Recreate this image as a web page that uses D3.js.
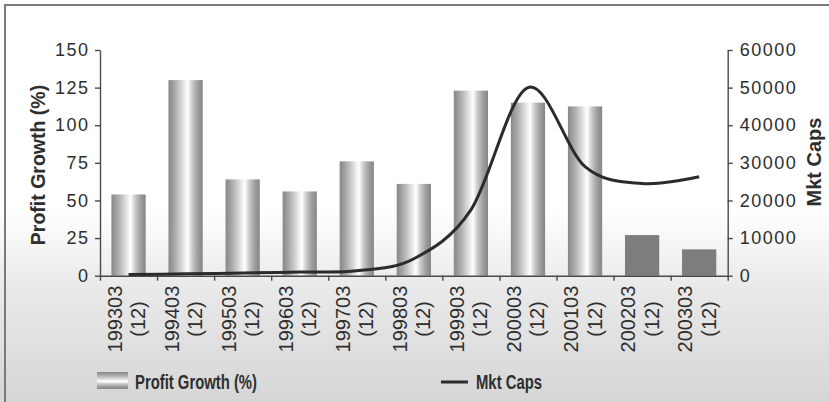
<!DOCTYPE html>
<html>
<head>
<meta charset="utf-8">
<script src="https://cdn.jsdelivr.net/npm/d3@7"></script>
<style>
  html, body { margin: 0; padding: 0; background: #fff; }
  svg { display: block; }
  text { font-family: "Liberation Sans", Arial, sans-serif; fill: #2e2e2e; }
</style>
</head>
<body>
<svg id="chart" width="829" height="402"></svg>
<script>
"use strict";

// chart values
var periods = ["199303", "199403", "199503", "199603", "199703", "199803",
    "199903", "200003", "200103", "200203", "200303"];
var periodMonths = ["(12)", "(12)", "(12)", "(12)", "(12)", "(12)",
    "(12)", "(12)", "(12)", "(12)", "(12)"];
var profitGrowth = [54, 130, 64, 56, 76, 61, 123, 115, 112.5, 27, 17.5];
var mktCaps = [300, 500, 700, 1000, 1300, 4500, 17500, 50000, 29000, 24500, 26300];
var solidPeriods = ["200203", "200303"];
var profitTicks = [0, 25, 50, 75, 100, 125, 150];
var capTicks = [0, 10000, 20000, 30000, 40000, 50000, 60000];
var legendLabels = ["Profit Growth (%)", "Mkt Caps"];

(function () {
    var svg = d3.select("#chart"),
        W = 829,
        H = 402,
        left = 100,
        right = 727.7,
        top = 50,
        bottom = 275.7,
        defs = svg.append("defs"),
        x,
        edge,
        yLeft,
        yRight,
        bg,
        bar,
        sw,
        line;

    // background: white fading into pale grey
    bg = defs.append("linearGradient")
        .attr("id", "bgGrad")
        .attr("x1", 0).attr("y1", 0).attr("x2", 0).attr("y2", 1);
    bg.append("stop").attr("offset", 0).attr("stop-color", "#ffffff");
    bg.append("stop").attr("offset", 0.52).attr("stop-color", "#ffffff");
    bg.append("stop").attr("offset", 0.72).attr("stop-color", "#e9e9e9");
    bg.append("stop").attr("offset", 1).attr("stop-color", "#d6d6d6");

    var barStops = [
        [0, "#888888"], [0.15, "#a2a2a2"], [0.35, "#cecece"], [0.5, "#f2f2f2"],
        [0.56, "#ffffff"], [0.7, "#c8c8c8"], [0.85, "#9f9f9f"], [1, "#858585"]
    ];

    bar = defs.append("linearGradient")
        .attr("id", "barGrad")
        .attr("x1", 0).attr("y1", 0).attr("x2", 1).attr("y2", 0);
    sw = defs.append("linearGradient")
        .attr("id", "swatchGrad")
        .attr("x1", 0).attr("y1", 0).attr("x2", 0).attr("y2", 1);
    barStops.forEach(function (s) {
        bar.append("stop").attr("offset", s[0]).attr("stop-color", s[1]);
        sw.append("stop").attr("offset", s[0]).attr("stop-color", s[1]);
    });

    svg.append("rect")
        .attr("width", W).attr("height", H)
        .attr("fill", "url(#bgGrad)");

    // frame
    svg.append("path")
        .attr("d", "M5," + H + "V5H" + W)
        .attr("fill", "none")
        .attr("stroke", "#7a7a7a")
        .attr("stroke-width", 2);

    x = d3.scaleBand().domain(periods).range([left, right]).padding(0);
    edge = d3.scaleLinear().domain([0, periods.length]).range([left, right]);
    yLeft = d3.scaleLinear().domain([0, 150]).range([bottom, top]);
    yRight = d3.scaleLinear().domain([0, 60000]).range([bottom, top]);

    // bars
    svg.append("g")
        .selectAll("rect")
        .data(periods)
        .enter()
        .append("rect")
        .attr("x", function (d) { return x(d) + x.bandwidth() * 0.2; })
        .attr("width", x.bandwidth() * 0.6)
        .attr("y", function (d, i) { return yLeft(profitGrowth[i]); })
        .attr("height", function (d, i) { return bottom - yLeft(profitGrowth[i]); })
        .attr("fill", function (d) {
            return solidPeriods.indexOf(d) >= 0 ? "#7d7d7d" : "url(#barGrad)";
        });

    // axes
    function styleAxis(g) {
        g.selectAll("path, line")
            .attr("stroke", "#4a4a4a")
            .attr("stroke-width", 1.4);
        g.selectAll("text")
            .attr("font-size", 18)
            .attr("letter-spacing", 1.5)
            .attr("fill", "#2e2e2e")
            .attr("font-family", "'Liberation Sans', Arial, sans-serif");
    }

    svg.append("g")
        .attr("transform", "translate(" + left + ",0)")
        .call(d3.axisLeft(yLeft).tickValues(profitTicks)
            .tickSize(5).tickSizeOuter(0).tickPadding(5.5))
        .call(styleAxis);

    svg.append("g")
        .attr("transform", "translate(" + right + ",0)")
        .call(d3.axisRight(yRight).tickValues(capTicks).tickFormat(d3.format("d"))
            .tickSize(5).tickSizeOuter(0).tickPadding(7))
        .call(styleAxis);

    svg.append("g")
        .attr("transform", "translate(0," + bottom + ")")
        .call(d3.axisBottom(edge).tickValues(d3.range(periods.length + 1))
            .tickFormat("").tickSize(5).tickSizeOuter(0))
        .call(styleAxis);

    // category labels, two lines, rotated
    var labels = svg.append("g")
        .selectAll("text")
        .data(periods)
        .enter()
        .append("text")
        .attr("transform", function (d) {
            return "translate(" + (x(d) + x.bandwidth() / 2) + ",319) rotate(-90)";
        })
        .attr("text-anchor", "middle")
        .attr("font-size", 20);
    labels.append("tspan")
        .attr("x", 0).attr("y", -6.8)
        .text(function (d) { return d; });
    labels.append("tspan")
        .attr("x", 0).attr("y", 16.5)
        .text(function (d, i) { return periodMonths[i]; });

    // market cap line
    line = d3.line()
        .x(function (d, i) { return x(periods[i]) + x.bandwidth() / 2; })
        .y(function (d) { return yRight(d); })
        .curve(d3.curveCatmullRom.alpha(0));

    svg.append("path")
        .datum(mktCaps)
        .attr("d", line)
        .attr("fill", "none")
        .attr("stroke", "#2b2b2b")
        .attr("stroke-width", 3);

    // axis titles
    svg.append("text")
        .attr("transform", "translate(45,165) rotate(-90)")
        .attr("text-anchor", "middle")
        .attr("font-weight", "bold")
        .attr("font-size", 19.5)
        .text("Profit Growth (%)");

    svg.append("text")
        .attr("transform", "translate(821,162) rotate(-90)")
        .attr("text-anchor", "middle")
        .attr("font-weight", "bold")
        .attr("font-size", 20)
        .text("Mkt Caps");

    // legend
    svg.append("rect")
        .attr("x", 97).attr("y", 372)
        .attr("width", 31).attr("height", 17)
        .attr("fill", "url(#swatchGrad)");
    svg.append("text")
        .attr("x", 135).attr("y", 389)
        .attr("font-family", "'Liberation Sans Narrow', 'Liberation Sans', sans-serif")
        .attr("font-weight", "bold")
        .attr("font-size", 20)
        .attr("textLength", 122)
        .attr("lengthAdjust", "spacingAndGlyphs")
        .text(legendLabels[0]);

    svg.append("line")
        .attr("x1", 441).attr("x2", 468)
        .attr("y1", 382).attr("y2", 382)
        .attr("stroke", "#2b2b2b")
        .attr("stroke-width", 3);
    svg.append("text")
        .attr("x", 476).attr("y", 389)
        .attr("font-family", "'Liberation Sans Narrow', 'Liberation Sans', sans-serif")
        .attr("font-weight", "bold")
        .attr("font-size", 20)
        .attr("textLength", 66)
        .attr("lengthAdjust", "spacingAndGlyphs")
        .text(legendLabels[1]);
}());
</script>
</body>
</html>
